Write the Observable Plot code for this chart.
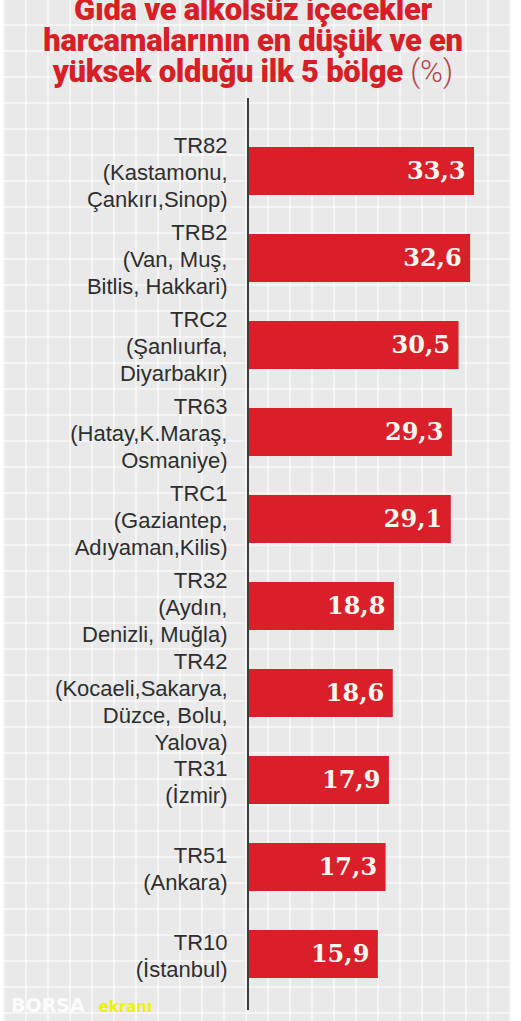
<!DOCTYPE html>
<html><head><meta charset="utf-8">
<script src="https://cdn.jsdelivr.net/npm/d3@7"></script>
<script src="https://cdn.jsdelivr.net/npm/@observablehq/plot@0.6"></script>
<style>
html,body{margin:0;padding:0;background:#fff;width:521px;height:1021px;overflow:hidden;position:relative;}
#panel{position:absolute;left:3px;top:0;width:508px;height:1021px;background-color:#e9e9ea;
background-image:linear-gradient(90deg, rgba(255,255,255,0.5) 2px, transparent 2px), linear-gradient(0deg, rgba(255,255,255,0.5) 2px, transparent 2px);
background-size:22px 26px;}
#title{position:absolute;left:3px;top:-6px;width:500px;text-align:center;font-family:Roboto, "Open Sans", sans-serif;font-weight:900;font-size:31px;line-height:31px;color:#d71f27;letter-spacing:-0.3px;}
#title .pct{font-weight:300;color:#b0474b;letter-spacing:0}
#chart{position:absolute;left:0;top:92px;}
#wm{position:absolute;left:11px;top:994px;font-family:"DejaVu Sans",sans-serif;font-weight:bold;white-space:nowrap;}
#wm .b{color:#fff;font-size:19px;opacity:0.85}
#wm .e{color:#eef20a;font-size:15px;margin-left:14px}
</style></head>
<body>
<div id="panel"></div>
<div id="title">Gıda ve alkolsüz içecekler<br>harcamalarının en düşük ve en<br>yüksek olduğu ilk 5 bölge <span class="pct">(%)</span></div>
<div id="chart"></div>
<div id="wm"><span class="b">BORSA</span><span class="e">ekranı</span></div>
<script>
const codes = ["TR82","TRB2","TRC2","TR63","TRC1","TR32","TR42","TR31","TR51","TR10"];
const regions = [
  "(Kastamonu,\nÇankırı,Sinop)",
  "(Van, Muş,\nBitlis, Hakkari)",
  "(Şanlıurfa,\nDiyarbakır)",
  "(Hatay,K.Maraş,\nOsmaniye)",
  "(Gaziantep,\nAdıyaman,Kilis)",
  "(Aydın,\nDenizli, Muğla)",
  "(Kocaeli,Sakarya,\nDüzce, Bolu,\nYalova)",
  "(İzmir)",
  "(Ankara)",
  "(İstanbul)"
];
const values = [33.3, 32.6, 30.5, 29.3, 29.1, 18.8, 18.6, 17.9, 17.3, 15.9];

const baseline = -7.42;
const data = codes.map((c, i) => ({code: c, label: c + "\n" + regions[i], value: values[i]}));
const longLabels = data.filter(d => d.label.split("\n").length > 3);
const shortLabels = data.filter(d => d.label.split("\n").length <= 3);
const fmt = v => d3.format(".1f")(v).replace(".", ",");

const labelStyle = {y: "code", x: baseline, text: "label", textAnchor: "end", dx: -22, lineHeight: 1.23,
  fill: "#2e2e2e", fontSize: 22, fontFamily: "'Liberation Sans', Arial, sans-serif"};

const chart = Plot.plot({
  width: 521, height: 929,
  marginLeft: 249, marginRight: 47, marginTop: 6, marginBottom: 11,
  x: {domain: [baseline, 33.3], axis: null},
  y: {domain: codes, axis: null, paddingInner: 0.45, paddingOuter: 0.1, insetTop: 37, insetBottom: 20},
  style: {background: "transparent", overflow: "visible"},
  marks: [
    Plot.barX(data, {y: "code", x1: baseline, x2: "value", fill: "#d9202a"}),
    Plot.ruleX([baseline], {stroke: "#111", strokeWidth: 1.6, dx: -1.5}),
    Plot.text(shortLabels, labelStyle),
    Plot.text(longLabels, {...labelStyle, dy: 7}),
    Plot.text(data, {y: "code", x: "value", text: d => fmt(d.value), textAnchor: "end", dx: -9,
      fill: "#fff8ef", fontSize: 24, fontWeight: "bold", fontFamily: "'DejaVu Serif', serif", letterSpacing: "1.5px"})
  ]
});
document.getElementById("chart").appendChild(chart);
</script>
</body></html>
